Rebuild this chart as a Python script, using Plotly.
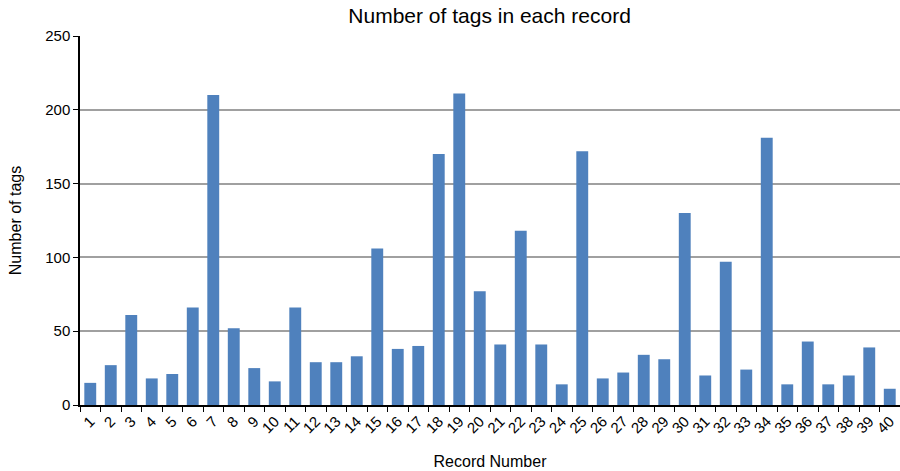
import plotly.graph_objects as go

records = [str(i) for i in range(1, 41)]
tags = [15, 27, 61, 18, 21, 66, 210, 52, 25, 16,
        66, 29, 29, 33, 106, 38, 40, 170, 211, 77,
        41, 118, 41, 14, 172, 18, 22, 34, 31, 130,
        20, 97, 24, 181, 14, 43, 14, 20, 39, 11]
y_ticks = [0, 50, 100, 150, 200, 250]

FONT = "Liberation Sans, Arial, Helvetica, sans-serif"

fig = go.Figure(go.Bar(x=records, y=tags, marker=dict(color="#4F81BD", line=dict(width=0))))

fig.update_layout(
    width=900, height=471,
    margin=dict(l=80, r=0, t=36, b=66),
    paper_bgcolor="white", plot_bgcolor="white",
    bargap=0.42,
    showlegend=False,
    title=dict(text="Number of tags in each record", x=0.544, xanchor="center",
               y=0.966, yanchor="middle",
               font=dict(family=FONT, size=21, color="black")),
    font=dict(family=FONT, color="black"),
)
fig.update_xaxes(
    type="category", automargin=False,
    title=dict(text="Record Number", font=dict(size=16), standoff=20),
    tickangle=-45, tickfont=dict(size=15),
    showline=True, linecolor="black", linewidth=1.5,
    ticks="outside", tickson="boundaries", ticklen=5, tickcolor="black",
    showgrid=False,
)
fig.update_yaxes(
    range=[0, 250], tickvals=y_ticks, automargin=False,
    title=dict(text="Number of tags", font=dict(size=16), standoff=20),
    tickfont=dict(size=15),
    showline=True, linecolor="black", linewidth=1.5,
    ticks="outside", ticklen=5, tickcolor="black",
    showgrid=True, gridcolor="#a0a0a0", gridwidth=1.5,
    zeroline=False,
)

fig.write_html(
    "out.html",
    config={"displayModeBar": False},
    post_script="document.body.style.margin='0';document.body.style.overflow='hidden';",
)
